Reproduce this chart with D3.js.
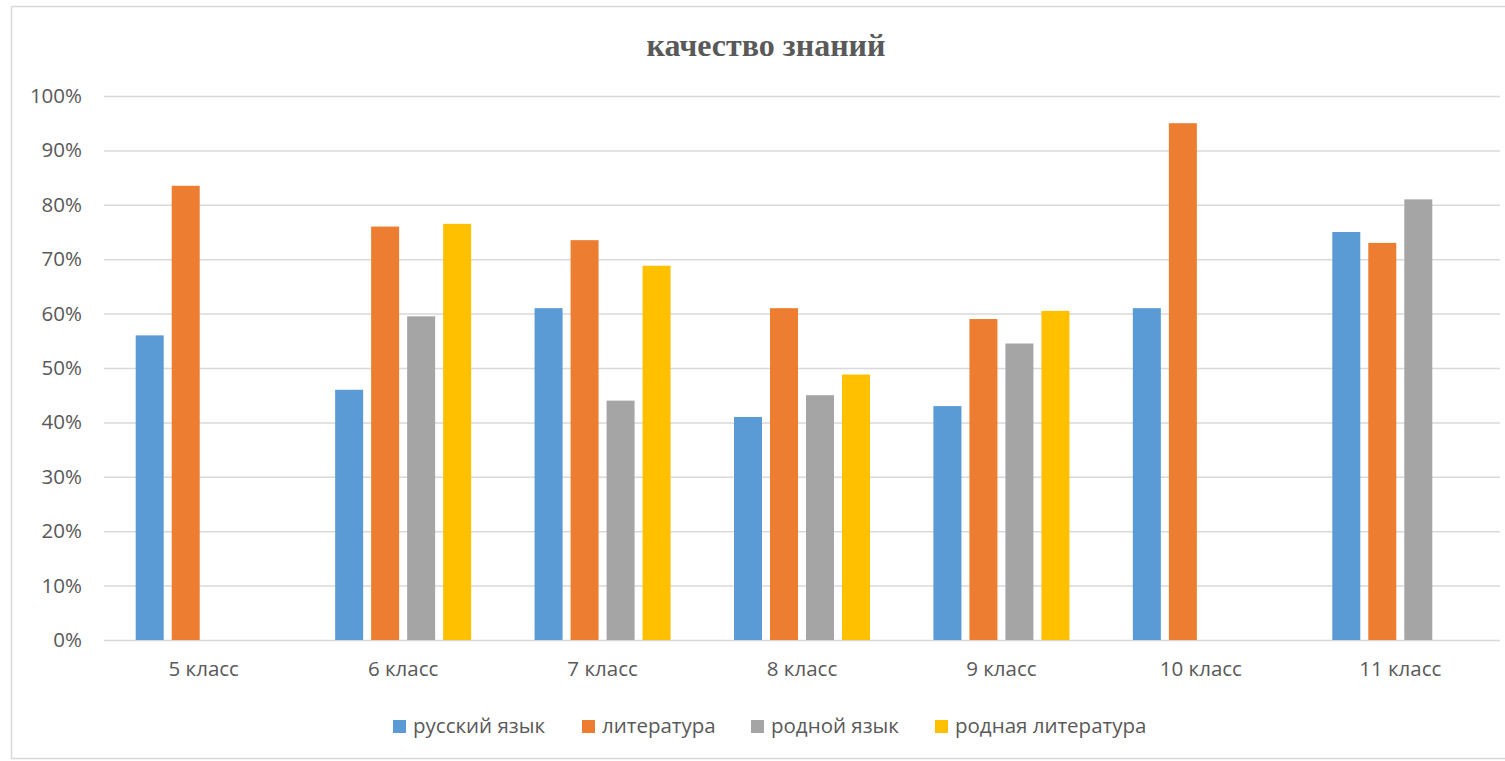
<!DOCTYPE html>
<html><head><meta charset="utf-8">
<script src="https://cdn.jsdelivr.net/npm/d3@7"></script>
<style>body{margin:0;background:#fff}svg{display:block}</style>
</head><body>
<svg id="chart" width="1505" height="761"></svg>
<script>
const categories = ["5 класс","6 класс","7 класс","8 класс","9 класс","10 класс","11 класс"];
const seriesNames = ["русский язык","литература","родной язык","родная литература"];
const russian     = [56, 46, 61, 41, 43, 61, 75];
const literature  = [83.5, 76, 73.5, 61, 59, 95, 73];
const nativeLang  = [null, 59.5, 44, 45, 54.5, null, 81];
const nativeLit   = [null, 76.5, 68.8, 48.8, 60.5, null, null];
const yTicks = [0,10,20,30,40,50,60,70,80,90,100];
const colors = ["#5B9BD5","#ED7D31","#A5A5A5","#FFC000"];
const seriesValues = [russian, literature, nativeLang, nativeLit];

const svg = d3.select("#chart");
const x0 = d3.scaleBand().domain(categories).range([104, 1500]).paddingInner(0.318).paddingOuter(0.159);
const x1 = d3.scaleBand().domain(d3.range(4)).range([0, x0.bandwidth()]).paddingInner(0.222).paddingOuter(0);
const y = d3.scaleLinear().domain([0,100]).range([640, 96]);
const FONT = "'Open Sans',sans-serif";

// border
svg.append("rect").attr("x",11.5).attr("y",6.5).attr("width",1500).attr("height",752)
  .attr("fill","none").attr("stroke","#d9d9d9").attr("stroke-width",1.5);

// title
svg.append("text").attr("x",766).attr("y",56).attr("text-anchor","middle")
  .attr("font-family","'Liberation Serif','Times New Roman',serif").attr("font-weight","bold")
  .attr("font-size",32).attr("fill","#595959").text("качество знаний");

// grid + y axis
const yAxis = d3.axisLeft(y).tickValues(yTicks).tickFormat(d=>d+"%").tickSize(-(1500-104)).tickPadding(22);
const gy = svg.append("g").attr("transform","translate(104,0)").call(yAxis);
gy.select(".domain").remove();
gy.selectAll(".tick line").attr("stroke","#d9d9d9").attr("stroke-width",1.5);
gy.selectAll(".tick text").attr("fill","#595959").attr("font-family",FONT).attr("font-size",20.5);

// bars
const groups = svg.append("g").selectAll("g").data(categories).join("g")
  .attr("transform", d=>`translate(${x0(d)},0)`);
groups.selectAll("rect").data((c,i)=>seriesValues.map((s,k)=>({k, v:s[i]})).filter(d=>d.v!=null))
  .join("rect")
  .attr("x", d=>x1(d.k)).attr("width", x1.bandwidth())
  .attr("y", d=>y(d.v)).attr("height", d=>y(0)-y(d.v))
  .attr("fill", d=>colors[d.k]);

// x axis
const xAxis = d3.axisBottom(x0).tickSize(0).tickPadding(21);
const gx = svg.append("g").attr("transform","translate(0,640)").call(xAxis);
gx.select(".domain").remove();
gx.selectAll(".tick text").attr("fill","#595959").attr("font-family",FONT).attr("font-size",20.5);

// legend
const legendX = [393, 582, 751, 935];
const lg = svg.append("g").selectAll("g").data(seriesNames).join("g")
  .attr("transform",(d,i)=>`translate(${legendX[i]},720)`);
lg.append("rect").attr("width",13).attr("height",13).attr("fill",(d,i)=>colors[i]);
lg.append("text").attr("x",20).attr("y",12.5).attr("fill","#595959")
  .attr("font-family",FONT).attr("font-size",20.5).text(d=>d);
</script>
</body></html>
